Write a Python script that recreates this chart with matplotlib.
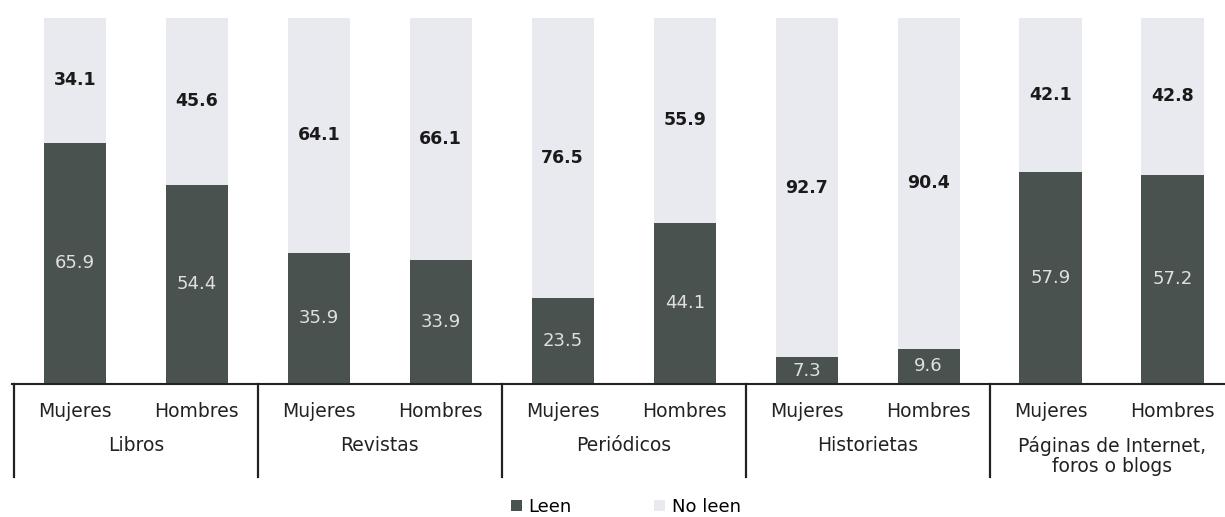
"""
Lectura por tipo de material y sexo (porcentajes, barras apiladas al 100%).
"""
import numpy as np
import matplotlib.pyplot as plt

plt.rcParams['font.family'] = ['DejaVu Sans']

materiales = ['Libros', 'Revistas', 'Periódicos', 'Historietas',
              'Páginas de Internet,\nforos o blogs']
sexos = ['Mujeres', 'Hombres']
leen = [65.9, 54.4, 35.9, 33.9, 23.5, 44.1, 7.3, 9.6, 57.9, 57.2]
no_leen = [34.1, 45.6, 64.1, 66.1, 76.5, 55.9, 92.7, 90.4, 42.1, 42.8]

color_leen = '#4a524f'
color_no = '#e9e9f0'


def main():
    fig = plt.figure(figsize=(12.25, 5.17), dpi=100)
    ax = fig.add_axes([12 / 1225, 133 / 517, 1 - 12 / 1225, 366 / 517])

    x = np.arange(len(leen))
    ax.bar(x, leen, width=0.51, color=color_leen, label='Leen')
    ax.bar(x, no_leen, width=0.51, bottom=leen, color=color_no, label='No leen')

    # value labels
    for xi, a, b in zip(x, leen, no_leen):
        ax.text(xi, a / 2, f'{a:.1f}', ha='center', va='center',
                color='#e0e0e0', fontsize=13)
        ax.text(xi, a + b / 2, f'{b:.1f}', ha='center', va='center',
                color='#1a1a1a', fontsize=12.5, fontweight='bold')

    ax.set_xlim(-0.515, 9.43)
    ax.set_ylim(0, 100)
    for s in ['top', 'right', 'left']:
        ax.spines[s].set_visible(False)
    ax.spines['bottom'].set_linewidth(1.5)
    ax.spines['bottom'].set_color('#222222')
    ax.set_yticks([])
    ax.set_xticks([])

    trans = ax.get_xaxis_transform()
    # group separators below the axis
    for sep in np.arange(-0.5, 10, 2):
        ax.plot([sep, sep], [0, -0.255], transform=trans, color='#222222',
                lw=1.6, clip_on=False)

    # sex labels and group labels
    for xi in x:
        ax.text(xi, -0.074, sexos[xi % 2], transform=trans, ha='center',
                va='center', fontsize=13.5, color='#222222')
    for g, name in enumerate(materiales):
        ax.text(2 * g + 0.5, -0.141, name, transform=trans, ha='center',
                va='top', fontsize=13.5, color='#222222', linespacing=1.1)

    ax.legend(loc='center left', bbox_to_anchor=(511 / 1225, 1 - 507 / 517),
              bbox_transform=fig.transFigure, ncol=2, frameon=False,
              fontsize=13, borderpad=0, borderaxespad=0, handlelength=0.6,
              handleheight=0.6, handletextpad=0.35, columnspacing=4.6)

    fig.savefig('out.png', dpi=100)


if __name__ == '__main__':
    main()
